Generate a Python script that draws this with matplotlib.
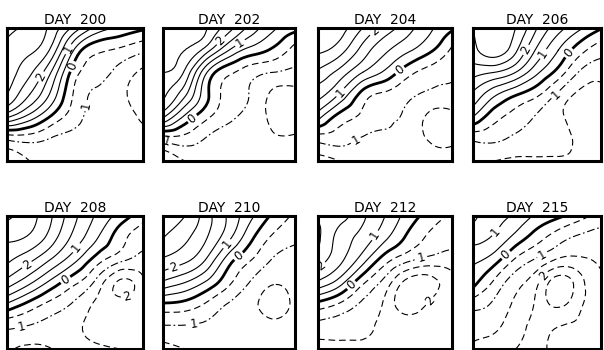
import numpy as np
import matplotlib
matplotlib.use("Agg")
import matplotlib.pyplot as plt
import matplotlib.tri as mtri

# grid columns / rows (fraction of panel), rows listed top -> bottom
xs = [0, 1/6, 2/6, 3/6, 4/6, 5/6, 1]
ys = [1, 5/6, 4/6, 3/6, 2/6, 1/6, 0]

days = ["200", "202", "204", "206", "208", "210", "212", "215"]

day200 = [[3.6, 3.4, 2.8, 1.8, 0.8, 0.4, 0.1],
          [3.4, 3.1, 2.3, 0.4, -0.4, -0.6, -0.9],
          [3.3, 2.6, 1.4, -0.3, -0.8, -1.2, -1.6],
          [3.0, 2.0, 0.8, -0.6, -1.1, -1.4, -1.7],
          [1.6, 0.8, -0.1, -0.8, -1.2, -1.3, -1.6],
          [-0.9, -0.8, -1.05, -1.2, -1.3, -1.3, -1.3],
          [-1.8, -1.5, -1.3, -1.3, -1.3, -1.3, -1.3]]

day202 = [[3.2, 3.4, 3.0, 2.2, 1.3, 0.6, 0.2],
          [3.2, 3.0, 2.2, 1.0, 0.3, -0.1, -0.7],
          [3.0, 2.4, 0.5, -0.4, -0.8, -1.0, -1.1],
          [2.6, 1.6, 0.1, -0.7, -1.05, -1.6, -1.7],
          [1.6, 0.4, -0.4, -0.9, -1.2, -1.6, -1.7],
          [-0.8, -0.7, -1.05, -1.2, -1.3, -1.45, -1.45],
          [-1.8, -1.5, -1.3, -1.3, -1.3, -1.3, -1.3]]

day204 = [[3.4, 3.2, 2.5, 1.8, 1.2, 0.6, 0.1],
          [3.1, 2.7, 1.8, 1.1, 0.6, 0.1, -0.6],
          [2.4, 1.8, 1.0, 0.4, -0.3, -0.7, -0.9],
          [1.7, 0.9, -0.2, -0.6, -0.9, -1.1, -1.2],
          [0.7, -0.2, -0.6, -0.9, -1.1, -1.6, -1.6],
          [-0.8, -0.8, -1.05, -1.1, -1.2, -1.55, -1.6],
          [-1.7, -1.5, -1.3, -1.3, -1.2, -1.3, -1.3]]

day206 = [[3.0, 3.2, 3.0, 2.0, 1.2, 0.6, 0.05],
          [2.8, 3.3, 2.6, 1.4, 0.5, -0.3, -0.8],
          [2.2, 2.0, 1.5, 0.6, -0.2, -1.05, -1.3],
          [1.4, 0.6, 0.05, -0.4, -1.1, -1.6, -1.7],
          [0.5, -0.3, -0.7, -1.05, -1.4, -1.7, -1.7],
          [-0.9, -0.9, -1.1, -1.2, -1.3, -1.6, -1.7],
          [-1.4, -1.5, -1.6, -1.6, -1.6, -1.6, -1.7]]

day208 = [[3.6, 3.2, 2.5, 1.6, 0.9, 0.3, -0.3],
          [3.1, 2.9, 2.2, 1.3, 0.5, -0.3, -0.8],
          [2.6, 2.1, 1.4, 0.6, -0.3, -0.9, -1.2],
          [1.8, 1.1, 0.3, -0.4, -1.2, -2.1, -1.6],
          [0.4, -0.2, -0.7, -1.1, -1.6, -1.8, -1.7],
          [-0.9, -1.05, -1.2, -1.4, -1.7, -1.8, -1.7],
          [-1.4, -1.6, -1.5, -1.4, -1.4, -1.5, -1.6]]

day210 = [[3.3, 3.0, 2.2, 1.4, 0.6, -0.1, -0.6],
          [3.0, 2.6, 2.0, 1.1, 0.1, -0.6, -0.9],
          [2.4, 2.1, 1.4, 0.2, -0.5, -1.05, -1.2],
          [1.4, 1.0, 0.4, -0.4, -1.05, -1.45, -1.3],
          [-0.1, -0.2, -0.6, -1.05, -1.35, -1.7, -1.35],
          [-1.05, -1.05, -1.1, -1.2, -1.3, -1.35, -1.3],
          [-1.7, -1.5, -1.4, -1.3, -1.3, -1.3, -1.3]]

day212 = [[2.4, 2.2, 1.6, 1.0, 0.3, -0.2, -0.6],
          [2.6, 1.8, 1.3, 0.6, -0.1, -0.6, -0.9],
          [2.2, 1.6, 0.7, -0.3, -0.9, -1.2, -1.2],
          [1.4, 0.7, -0.4, -1.2, -2.2, -2.2, -1.7],
          [-0.2, -0.6, -1.1, -1.6, -2.3, -1.9, -1.6],
          [-1.2, -1.3, -1.4, -1.6, -1.7, -1.7, -1.8],
          [-1.7, -1.6, -1.6, -1.6, -1.6, -1.7, -1.9]]

day215 = [[1.6, 1.2, 0.9, 0.4, 0.1, -0.3, -0.7],
          [1.2, 0.9, 0.3, -0.3, -0.8, -1.1, -1.2],
          [0.6, 0.2, -0.6, -1.1, -1.6, -1.6, -1.4],
          [0.2, -0.6, -1.3, -1.9, -2.8, -2.2, -1.6],
          [-0.8, -1.1, -1.6, -2.1, -2.6, -2.1, -1.7],
          [-1.3, -1.4, -1.8, -2.1, -2.0, -1.9, -1.8],
          [-1.6, -1.8, -2.0, -2.1, -1.8, -1.6, -1.9]]

fields = [day200, day202, day204, day206, day208, day210, day212, day215]

levels = np.arange(-3.0, 4.01, 0.5)
labelled = [-2.0, -1.0, 0.0, 1.0, 2.0]

plt.rcParams['lines.dashed_pattern'] = [6.0, 3.5]
plt.rcParams['lines.dashdot_pattern'] = [7.0, 2.5, 1.5, 2.5]

W, H = 604, 350
fig = plt.figure(figsize=(W / 100, H / 100), dpi=100)

# panel boxes in pixels: left, width ; rows: top
lefts = [7, 163, 318, 473]
widths = [136, 132, 134, 128]
tops = [28, 216]
ph = 133

X, Y = np.meshgrid(xs, ys)
tri = mtri.Triangulation(X.ravel(), Y.ravel())
refiner = mtri.UniformTriRefiner(tri)

styles = []
widths_l = []
for lv in levels:
    if lv > 0:
        styles.append('solid'); widths_l.append(0.8)
    elif lv == 0:
        styles.append('solid'); widths_l.append(2.0)
    elif lv == -1:
        styles.append('dashdot'); widths_l.append(0.8)
    else:
        styles.append('dashed'); widths_l.append(0.8)

for i, (day, z) in enumerate(zip(days, fields)):
    r, c = divmod(i, 4)
    ax = fig.add_axes([lefts[c] / W, 1 - (tops[r] + ph) / H, widths[c] / W, ph / H])
    z = np.array(z, dtype=float)
    rtri, rz = refiner.refine_field(z.ravel(), subdiv=3)
    cs = ax.tricontour(rtri, rz, levels=levels, colors='k',
                       linewidths=widths_l, linestyles=styles)
    ax.clabel(cs, levels=[l for l in labelled if l in cs.levels],
              fmt=lambda v: f"{abs(v):g}", fontsize=8.5, inline=True, inline_spacing=2)
    ax.set_xlim(0, 1)
    ax.set_ylim(0, 1)
    ax.set_xticks([])
    ax.set_yticks([])
    for s in ax.spines.values():
        s.set_linewidth(2.2)
    ax.set_title(f"DAY  {day}", fontsize=10, pad=3)

fig.savefig("out.png", dpi=100)
